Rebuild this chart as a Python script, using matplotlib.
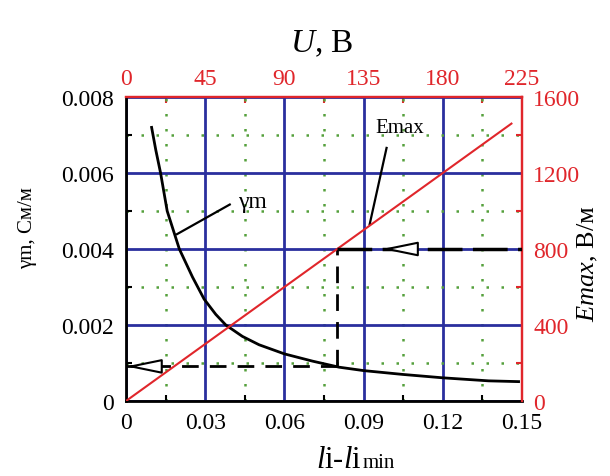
import matplotlib
matplotlib.use("Agg")
import matplotlib.pyplot as plt
from matplotlib.ticker import MultipleLocator, FixedLocator

plt.rcParams['font.family'] = ['Liberation Serif', 'DejaVu Serif']
plt.rcParams['mathtext.fontset'] = 'custom'
plt.rcParams['mathtext.rm'] = 'Liberation Serif'
plt.rcParams['mathtext.it'] = 'Liberation Serif:italic'

# ---------------- data ----------------
l_ticks = [0, 0.03, 0.06, 0.09, 0.12, 0.15]
l_tick_labels = ['0', '0.03', '0.06', '0.09', '0.12', '0.15']
gamma_ticks = [0, 0.002, 0.004, 0.006, 0.008]
gamma_tick_labels = ['0', '0.002', '0.004', '0.006', '0.008']
E_ticks = [0, 400, 800, 1200, 1600]
E_tick_labels = ['0', '400', '800', '1200', '1600']
U_ticks = [0, 45, 90, 135, 180, 225]
U_tick_labels = ['0', '45', '90', '135', '180', '225']

# gamma_m curve
l_gamma = [0.0097, 0.0113, 0.0131, 0.0156, 0.0202, 0.0252, 0.0296, 0.0340,
           0.0378, 0.0441, 0.0504, 0.060, 0.0706, 0.0807, 0.090, 0.1047,
           0.120, 0.1374, 0.1487]
gamma = [0.0072, 0.0066, 0.0060, 0.0050, 0.0040, 0.00326, 0.00268, 0.00228,
         0.0020, 0.0017, 0.00148, 0.00124, 0.00105, 0.00089, 0.0008, 0.0007,
         0.00061, 0.00053, 0.00051]

# Emax line
l_E = [0.0, 0.146]
E = [0.0, 1460.0]

# construction (dashed) lines
l_mark = 0.08
gamma_mark = 0.00091
E_mark = 800
arrow_low_tail = 0.012
arrow_up_tip = 0.097
arrow_up_tail = 0.110

# label annotations
emax_label_pos = (0.1038, 0.00721)
emax_leader_l = [0.0987, 0.0923]
emax_leader_g = [0.00666, 0.00465]
gm_label_pos = (0.0477, 0.00526)
gm_leader_l = [0.0393, 0.0193]
gm_leader_g = [0.00517, 0.00439]

# ---------------- style ----------------
RED = '#e0262b'
BLUE = '#2a2f9e'
GREEN = '#55a03c'
TICK_FS = 17

fig = plt.figure(figsize=(6.1, 4.77), dpi=100)
ax = fig.add_axes([126 / 610, 1 - 402 / 477, (522 - 126) / 610, (402 - 98) / 477])

L_MAX = l_ticks[-1]
G_MAX = gamma_ticks[-1]
E_MAX = E_ticks[-1]
U_MAX = U_ticks[-1]

ax.set_xlim(0, L_MAX)
ax.set_ylim(0, G_MAX)
ax.xaxis.set_major_locator(FixedLocator(l_ticks))
ax.set_xticklabels(l_tick_labels)
ax.yaxis.set_major_locator(FixedLocator(gamma_ticks))
ax.set_yticklabels(gamma_tick_labels)
ax.xaxis.set_minor_locator(MultipleLocator(0.015))
ax.yaxis.set_minor_locator(MultipleLocator(0.001))

ax.set_axisbelow(True)
ax.grid(which='major', color=BLUE, lw=2)
ax.grid(which='minor', color=GREEN, lw=1.8, linestyle=(0, (1, 5)))

ax.tick_params(which='major', length=0, labelsize=TICK_FS, colors='black')
ax.tick_params(axis='y', which='major', pad=9)
ax.tick_params(axis='x', which='major', pad=8)
ax.tick_params(which='minor', direction='in', length=4, width=1.5, color='black')
ax.tick_params(axis='x', which='both', top=False)

for s in ['left', 'bottom']:
    ax.spines[s].set_color('black')
    ax.spines[s].set_linewidth(2)
for s in ['top', 'right']:
    ax.spines[s].set_color(RED)
    ax.spines[s].set_linewidth(1.6)

# right axis
ax_r = ax.twinx()
ax_r.set_ylim(0, E_MAX)
ax_r.yaxis.set_major_locator(FixedLocator(E_ticks))
ax_r.set_yticklabels(E_tick_labels)
ax_r.yaxis.set_minor_locator(MultipleLocator(200))
ax_r.tick_params(which='major', length=0, labelsize=TICK_FS, labelcolor=RED, pad=8)
ax_r.tick_params(which='minor', direction='in', length=4, width=1.5, color=RED)
for s in ['left', 'bottom', 'top']:
    ax_r.spines[s].set_visible(False)
ax_r.spines['right'].set_color(RED)
ax_r.spines['right'].set_linewidth(1.6)

# top axis
U_per_l = U_MAX / L_MAX
sec = ax.secondary_xaxis('top', functions=(lambda l: l * U_per_l, lambda u: u / U_per_l))
sec.xaxis.set_major_locator(FixedLocator(U_ticks))
sec.set_xticklabels(U_tick_labels)
sec.xaxis.set_minor_locator(MultipleLocator(22.5))
sec.tick_params(which='major', length=0, labelsize=TICK_FS, labelcolor=RED, pad=6)
sec.tick_params(which='minor', direction='in', length=4, width=1.5, color=RED)
sec.spines['top'].set_color(RED)
sec.spines['top'].set_linewidth(1.6)

# curves
ax.plot(l_gamma, gamma, color='black', lw=2, zorder=4)
ax_r.plot(l_E, E, color=RED, lw=1.5, zorder=3)

# construction lines
g_at_Emark = E_mark / E_MAX * G_MAX
ax.plot([0, l_mark], [gamma_mark, gamma_mark], color='black', lw=2,
        dashes=(6, 4), zorder=4)
ax.plot([l_mark, l_mark], [gamma_mark, g_at_Emark], color='black', lw=2,
        dashes=(6, 4), zorder=4)
ax_r.plot([l_mark, L_MAX], [E_mark, E_mark], color='black', lw=2.5,
          dashes=(10, 3), zorder=4)

arrow_kw = dict(arrowstyle='-|>,head_length=2.2,head_width=0.45', mutation_scale=10,
                fc='white', ec='black', lw=1.5, shrinkA=0, shrinkB=0)
ax.annotate('', xy=(0, gamma_mark), xytext=(arrow_low_tail, gamma_mark),
            arrowprops=arrow_kw, zorder=5)
ax_r.annotate('', xy=(arrow_up_tip, E_mark), xytext=(arrow_up_tail, E_mark),
              arrowprops=arrow_kw, zorder=5)

# curve labels
ax.text(*emax_label_pos, 'Emax', fontsize=15, ha='center', va='center', zorder=6)
ax.plot(emax_leader_l, emax_leader_g, color='black', lw=1.6, zorder=5)
ax.text(*gm_label_pos, 'γm', fontsize=17, ha='center', va='center', zorder=6)
ax.plot(gm_leader_l, gm_leader_g, color='black', lw=1.6, zorder=5)

# axis titles
fig.text(322 / 610, 1 - 52 / 477, '$U$, В', fontsize=24, ha='center', va='baseline')
fig.text(361 / 610, 1 - 468 / 477, '$l$i-$l$i', fontsize=22, ha='right', va='baseline')
fig.text(363 / 610, 1 - 468 / 477, 'min', fontsize=15, ha='left', va='baseline')
fig.text(28 / 610, 1 - 228 / 477, 'γm, См/м', fontsize=15, rotation=90,
         ha='center', va='center')
fig.text(588 / 610, 1 - 264 / 477, '$Emax$, В/м', fontsize=19, rotation=90,
         ha='center', va='center')

fig.savefig('out.png', dpi=100)
